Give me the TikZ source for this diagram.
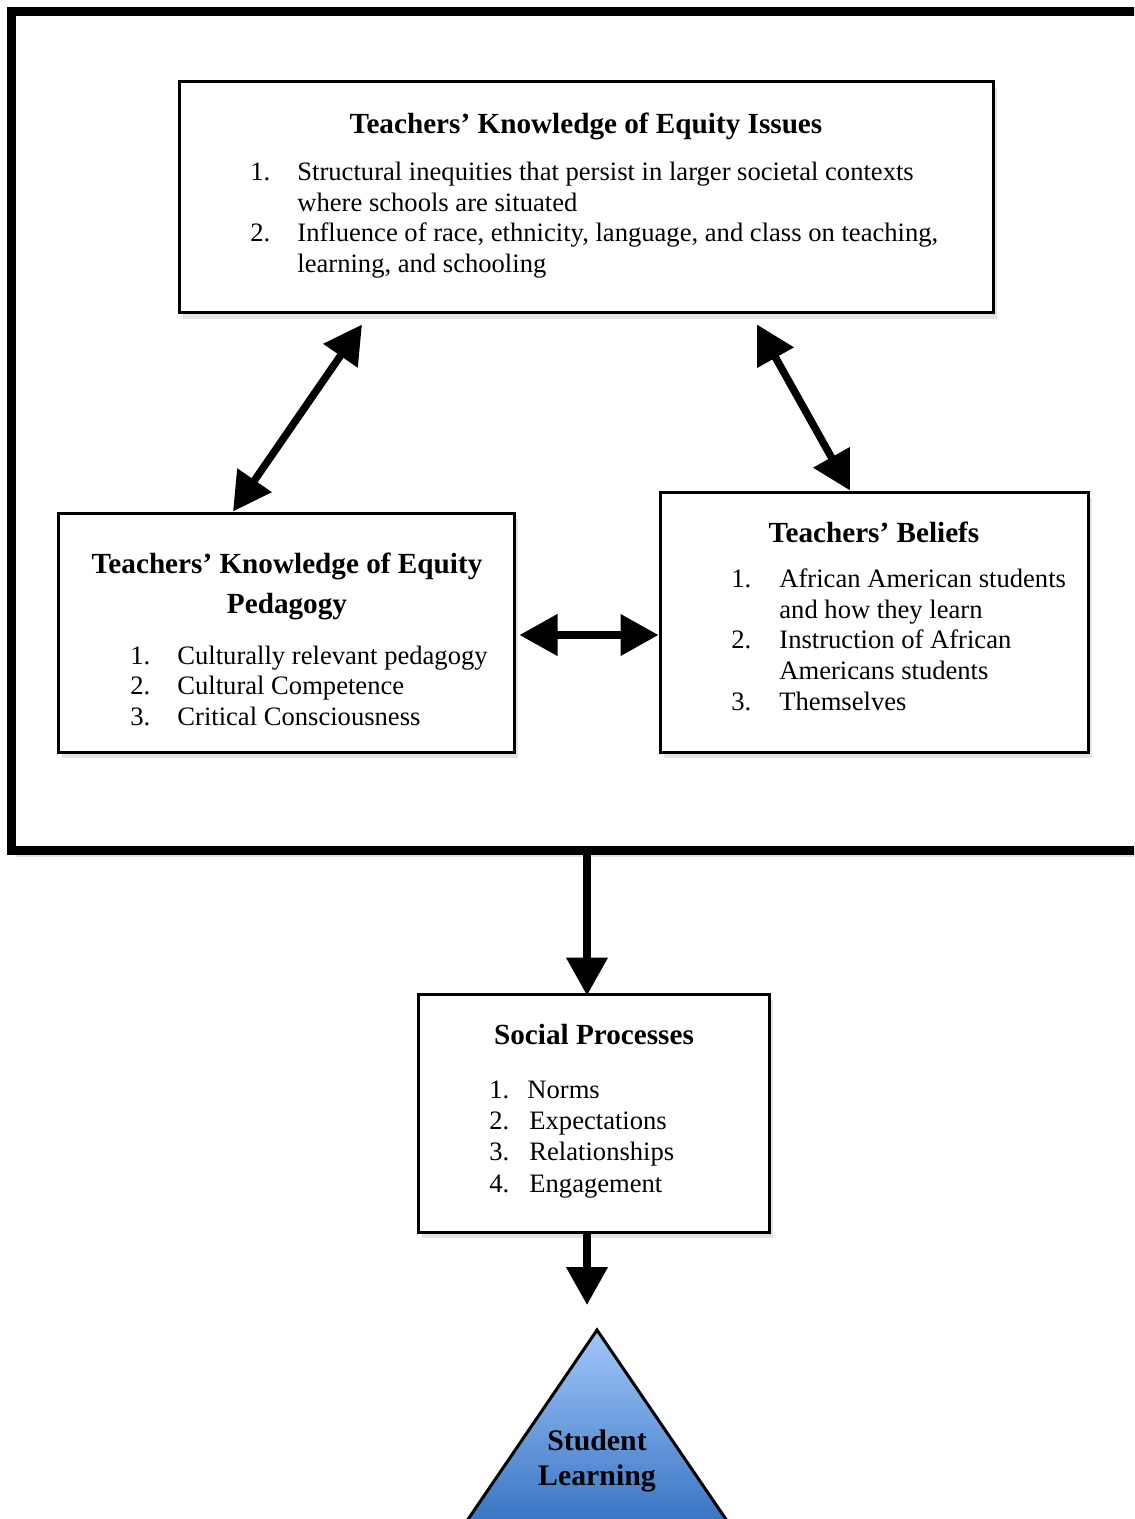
\documentclass[tikz,border=0pt]{standalone}
\usepackage{fontspec}
\setmainfont{Liberation Serif}
\usetikzlibrary{arrows.meta,calc,shadows}
\newcommand\txtfont{\fontsize{13.3pt}{15.25pt}\selectfont}
\newcommand\hdfont{\fontsize{14.6pt}{20pt}\selectfont\bfseries}
\definecolor{trtop}{HTML}{A4C8FA}
\definecolor{trbot}{HTML}{3A76C4}
\tikzset{
	box/.style={draw, line width=1.5pt, fill=white, inner sep=0pt,
		drop shadow={shadow xshift=2pt, shadow yshift=-3pt, opacity=0.22}},
	hd/.style={anchor=base, inner sep=0pt, align=center, font=\hdfont},
	num/.style={anchor=base west, inner sep=0pt, font=\txtfont},
	entry/.style={anchor=base west, inner sep=0pt, align=left, font=\txtfont},
	dbl/.style={line width=3.75pt, {Triangle[width=20pt,length=19pt]}-{Triangle[width=20pt,length=19pt]}},
	single/.style={line width=3.75pt, -{Triangle[width=20pt,length=19pt]}}
}

\begin{document}
\begin{tikzpicture}[x=0.5pt,y=-0.5pt]
			%%%%% START %%%%%
			\useasboundingbox (0,0) rectangle (1134,1519);
			\clip (0,0) rectangle (1134,1519);
			
			% outer frame
			\node[box, line width=4.5pt, minimum width=574.25pt, minimum height=419.5pt] (frame) at (585.75,431) {};
			
			% the three boxes in the frame
			\node[box, minimum width=407pt, minimum height=115.5pt] (top) at (586,197.5) {};
			\node[box, minimum width=228pt, minimum height=119.5pt] (lft) at (286,632.5) {};
			\node[box, minimum width=214pt, minimum height=130pt] (rgt) at (874,622) {};
			
			% two-line texts: base is the last line
			\node[hd] (tophd) at (586,133.5) {Teachers’ Knowledge of Equity Issues};
			\node[num] (topn1) at (250,181) {1.};
			\node[entry] (topi1) at (297,211.5) {Structural inequities that persist in larger societal contexts\\where schools are situated};
			\node[num] (topn2) at (250,242) {2.};
			\node[entry] (topi2) at (297,272.5) {Influence of race, ethnicity, language, and class on teaching,\\learning, and schooling};
			
			\node[hd] (lfthd) at (287,613) {Teachers’ Knowledge of Equity\\Pedagogy};
			\node[num] (lftn1) at (130,664.5) {1.};
			\node[entry] (lfti1) at (177,664.5) {Culturally relevant pedagogy};
			\node[num] (lftn2) at (130,694.5) {2.};
			\node[entry] (lfti2) at (177,694.5) {Cultural Competence};
			\node[num] (lftn3) at (130,725.5) {3.};
			\node[entry] (lfti3) at (177,725.5) {Critical Consciousness};
			
			\node[hd] (rgthd) at (874,542) {Teachers’ Beliefs};
			\node[num] (rgtn1) at (731,587.5) {1.};
			\node[entry] (rgti1) at (779,618) {African American students\\and how they learn};
			\node[num] (rgtn2) at (731,648.5) {2.};
			\node[entry] (rgti2) at (779,679) {Instruction of African\\Americans students};
			\node[num] (rgtn3) at (731,710.5) {3.};
			\node[entry] (rgti3) at (779,710.5) {Themselves};
			
			\draw[dbl] ($(lft.north)+(-53,0)$) -- ($(top.south)+(-224,10)$);
			\draw[dbl] ($(top.south)+(171,10)$) -- ($(rgt.north)+(-24,0)$);
			\draw[dbl] ($(lft.east)+(4,2.5)$) -- ($(rgt.west)+(0,13)$);
			
			% social processes
			\node[box, minimum width=175.5pt, minimum height=119pt] (soc) at (593.5,1113) {};
			\node[hd] (sochd) at (594,1044) {Social Processes};
			\node[num] (socn1) at (489,1098.5) {1.};
			\node[entry] (soci1) at (527,1098.5) {Norms};
			\node[num] (socn2) at (489,1129.5) {2.};
			\node[entry] (soci2) at (529,1129.5) {Expectations};
			\node[num] (socn3) at (489,1160.5) {3.};
			\node[entry] (soci3) at (529,1160.5) {Relationships};
			\node[num] (socn4) at (489,1192.5) {4.};
			\node[entry] (soci4) at (529,1192.5) {Engagement};
			
			\coordinate (dn) at ($(soc.north)+(-6.5,3)$);
			\draw[single] (frame.south -| dn) -- (dn);
			
			% student learning
			\coordinate (apex) at (597,1330);
			\begin{scope}
				\clip (apex) -- (413,1600) -- (781,1600) -- cycle;
				\shade[top color=trtop, bottom color=trbot] (413,1326) rectangle (781,1519);
			\end{scope}
			\draw[line width=1.5pt, line join=miter] (apex) -- (413,1600) -- (781,1600) -- cycle;
			\node[hd, font=\fontsize{14.9pt}{17.5pt}\selectfont\bfseries] (learn) at (597,1485) {Student\\Learning};
			
			\draw[single] ($(soc.south)+(-6.5,0)$) -- ($(apex)+(-10,-25)$);
			%%%%% END %%%%%
\end{tikzpicture}
\end{document}
